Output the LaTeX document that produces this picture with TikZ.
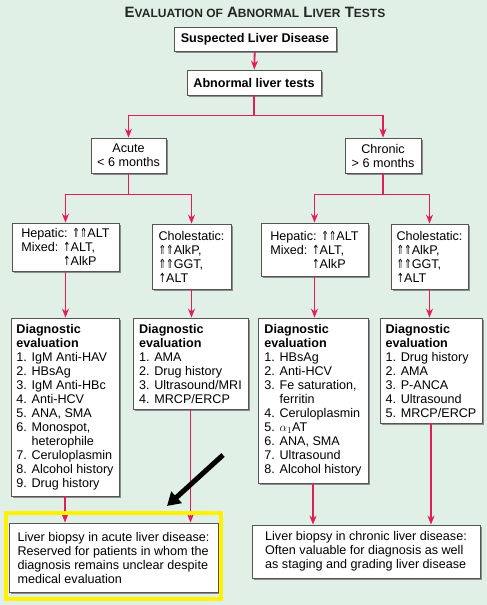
\documentclass[tikz,border=0pt]{standalone}
\usepackage{fontspec}
\setmainfont{Liberation Sans}
\newfontfamily\arrowfont{DejaVu Sans}
\usetikzlibrary{arrows.meta,shadows,calc}
\definecolor{bggreen}{RGB}{224,240,230}
\definecolor{flowred}{RGB}{226,30,90}
\definecolor{boxgray}{RGB}{85,85,85}
\newcommand{\uparr}{\scalebox{0.72}[1]{\arrowfont ⇑}}
\newcommand{\thinup}{\scalebox{0.72}[1]{\arrowfont ↑}}
\newcommand{\smc}[1]{{\fontsize{12}{12}\selectfont #1}}

\begin{document}
\begin{tikzpicture}[x=1pt,y=-1pt,
  >={Stealth[length=9pt,width=7pt]},
  box/.style={draw=boxgray, fill=white, line width=0.8pt, inner sep=2pt,
    drop shadow={shadow xshift=2pt,shadow yshift=-2pt,fill=black!45,opacity=1},
    align=left, font=\fontsize{12.6}{14}\selectfont},
  flow/.style={->, draw=flowred, line width=1.8pt}]
\fill[bggreen] (0,0) rectangle (487,605);
\useasboundingbox (0,0) rectangle (487,605);

\node[inner sep=0pt, text=black!85] (title) at (255,12)
  {\bfseries\fontsize{15}{15}\selectfont E\smc{VALUATION OF} A\smc{BNORMAL} L\smc{IVER} T\smc{ESTS}};

% top of the tree
\node[box, align=center, minimum width=162pt, minimum height=24pt] (sus) at (255,39) {\bfseries Suspected Liver Disease};
\node[box, align=center, minimum width=134pt, minimum height=25pt] (abn) at (254,82.5) {\bfseries Abnormal liver tests};
\node[box, align=center, minimum width=75pt, minimum height=35pt] (acute) at (128.5,155.5) {Acute\\< 6 months};
\node[box, align=center, minimum width=76pt, minimum height=35pt] (chron) at (383,155.5) {Chronic\\> 6 months};

% patterns
\node[box, minimum width=107pt, minimum height=48pt] (hepA) at (65.5,247)
  {Hepatic: \uparr\uparr ALT\\Mixed: \thinup ALT,\\\phantom{Mixed: }\thinup AlkP};
\node[box, minimum width=79pt, minimum height=65pt] (cholA) at (191.5,256.5)
  {Cholestatic:\\\uparr\uparr AlkP,\\\uparr\uparr GGT,\\\thinup ALT};
\node[box, minimum width=107pt, minimum height=53pt] (hepC) at (314.5,249.5)
  {Hepatic: \uparr\uparr ALT\\Mixed: \thinup ALT,\\\phantom{Mixed: }\thinup AlkP};
\node[box, minimum width=77pt, minimum height=65pt] (cholC) at (429.5,256.5)
  {Cholestatic:\\\uparr\uparr AlkP,\\\uparr\uparr GGT,\\\thinup ALT};

% diagnostic evaluation
\node[box, minimum width=108pt, minimum height=178pt] (dA1) at (65,407)
  {\textbf{Diagnostic}\\\textbf{evaluation}\\1. IgM Anti-HAV\\2. HBsAg\\3. IgM Anti-HBc\\4. Anti-HCV\\5. ANA, SMA\\6. Monospot,\\\phantom{6. }heterophile\\7. Ceruloplasmin\\8. Alcohol history\\9. Drug history};
\node[box, minimum width=115pt, minimum height=91pt] (dA2) at (190.5,363.5)
  {\textbf{Diagnostic}\\\textbf{evaluation}\\1. AMA\\2. Drug history\\3. Ultrasound/MRI\\4. MRCP/ERCP};
\node[box, minimum width=110pt, minimum height=165pt] (dC1) at (313,400.5)
  {\textbf{Diagnostic}\\\textbf{evaluation}\\1. HBsAg\\2. Anti-HCV\\3. Fe saturation,\\\phantom{3. }ferritin\\4. Ceruloplasmin\\5. $\alpha_1$AT\\6. ANA, SMA\\7. Ultrasound\\8. Alcohol history};
\node[box, minimum width=102pt, minimum height=105pt] (dC2) at (431,370.5)
  {\textbf{Diagnostic}\\\textbf{evaluation}\\1. Drug history\\2. AMA\\3. P-ANCA\\4. Ultrasound\\5. MRCP/ERCP};

% biopsy
\node[box, minimum width=209pt, minimum height=69pt] (bA) at (113.5,557.5)
  {Liver biopsy in acute liver disease:\\Reserved for patients in whom the\\diagnosis remains unclear despite\\medical evaluation};
\node[box, minimum width=228pt, minimum height=53pt] (bC) at (366,551.5)
  {Liver biopsy in chronic liver disease:\\Often valuable for diagnosis as well\\as staging and grading liver disease};

% connectors
\draw[flow] (sus) -- (abn);
\draw[flow] (abn.south) -- ++(0,20) -| (acute.north);
\draw[flow] (abn.south) -- ++(0,20) -| (chron.north);
\draw[flow] (acute.south) -- ++(0,21) -| (hepA.north);
\draw[flow] (acute.south) -- ++(0,21) -| (cholA.north);
\draw[flow] (chron.south) -- ++(0,21) -| (hepC.north);
\draw[flow] (chron.south) -- ++(0,21) -| (cholC.north);
\draw[flow] (hepA.south) -- (hepA.south |- dA1.north);
\draw[flow] (cholA.south) -- (cholA.south |- dA2.north);
\draw[flow] (hepC.south) -- (hepC.south |- dC1.north);
\draw[flow] (cholC.south) -- (cholC.south |- dC2.north);
\draw[flow] (dA1.south) -- (dA1.south |- bA.north);
\draw[flow] (dA2.south) -- (dA2.south |- bA.north);
\draw[flow] (dC1.south) -- (dC1.south |- bC.north);
\draw[flow] (dC2.south) -- (dC2.south |- bC.north);

% highlight
\draw[yellow, line width=4pt] ($(bA.north west)+(-3,-10)$) rectangle ($(bA.south east)+(3,7)$);
\coordinate (ptail) at (223,455);
\coordinate (phead) at (167,506);
\draw[line width=5pt, -{Triangle[length=13pt,width=15pt]}] (ptail) -- (phead);
\end{tikzpicture}
\end{document}
